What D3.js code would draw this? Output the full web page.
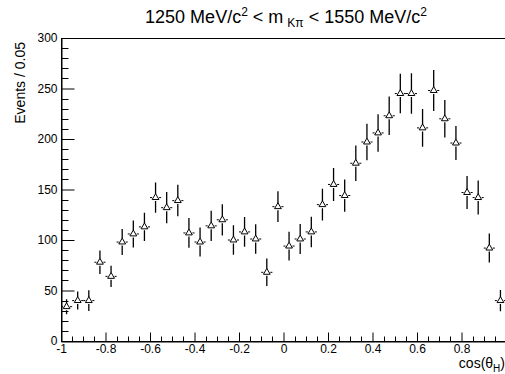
<!DOCTYPE html>
<html>
<head>
<meta charset="utf-8">
<script src="https://cdn.jsdelivr.net/npm/d3@7/dist/d3.min.js"></script>
<style>
  body { margin: 0; background: #fff; }
  svg { display: block; overflow: hidden; }
  text { font-family: "Liberation Sans", Arial, Helvetica, sans-serif; fill: #000; }
</style>
</head>
<body>
<svg id="chart"></svg>
<script>
// bin centres of cos(theta_H), 40 bins of width 0.05
var binCenters = [-0.975, -0.925, -0.875, -0.825, -0.775, -0.725, -0.675, -0.625, -0.575, -0.525,
                  -0.475, -0.425, -0.375, -0.325, -0.275, -0.225, -0.175, -0.125, -0.075, -0.025,
                   0.025,  0.075,  0.125,  0.175,  0.225,  0.275,  0.325,  0.375,  0.425,  0.475,
                   0.525,  0.575,  0.625,  0.675,  0.725,  0.775,  0.825,  0.875,  0.925,  0.975];
var binHalfWidth = 0.025;

// events per bin
var events = [34, 40, 40, 78, 64, 98, 106, 113, 142, 132,
              139, 107, 98, 114, 120, 100, 108, 101, 68, 133,
              94, 101, 108, 135, 155, 144, 176, 197, 206, 223,
              245, 245, 211, 248, 220, 196, 147, 142, 92, 40];

// vertical error (half length)
var errors = [7.4, 8.9, 10.2, 11.6, 10.6, 12.9, 13.4, 14.1, 15.0, 15.5,
              15.6, 14.7, 14.4, 14.9, 15.5, 14.7, 14.7, 14.6, 13.6, 15.3,
              14.2, 14.9, 15.1, 15.8, 16.3, 16.0, 17.5, 18.0, 18.5, 19.0,
              19.5, 20.1, 18.6, 20.3, 18.5, 16.8, 16.3, 16.8, 14.4, 10.6];

var xTicks = [-1, -0.8, -0.6, -0.4, -0.2, 0, 0.2, 0.4, 0.6, 0.8, 1];
// the label of 1 falls outside the canvas in the original
var xTickLabels = ["-1", "-0.8", "-0.6", "-0.4", "-0.2", "0", "0.2", "0.4", "0.6", "0.8", ""];
var yTicks = [0, 50, 100, 150, 200, 250, 300];

var w = 505, h = 374;
var padLeft = 61, padRight = 506, padTop = 38, padBottom = 341;
var gap = 3.5; // error bars stop short of the marker

var svg = d3.select("#chart")
    .attr("width", w)
    .attr("height", h);

var x = d3.scaleLinear().domain([-1, 1]).range([padLeft, padRight]);
var y = d3.scaleLinear().domain([0, 300]).range([padBottom, padTop]);

//frame
svg.append("rect")
    .attr("x", padLeft + 0.5)
    .attr("y", padTop + 0.5)
    .attr("width", padRight - padLeft)
    .attr("height", padBottom - padTop)
    .attr("fill", "none")
    .attr("stroke", "#000")
    .attr("stroke-width", 1);

// y axis, ticks pointing inside
var yAxis = svg.append("g")
    .attr("transform", "translate(" + (padLeft + 0.5) + ",0)")
    .call(d3.axisLeft(y).tickValues(yTicks).tickSize(-13).tickSizeOuter(0).tickPadding(4)
        .tickFormat(function(d) { return d; }));

var yMinor = d3.range(0, 301, 10).filter(function(d) { return d % 50 != 0; });
yAxis.selectAll(".minor")
    .data(yMinor)
    .enter().append("line")
    .attr("class", "minor")
    .attr("x1", 0).attr("x2", 7)
    .attr("y1", function(d) { return Math.round(y(d)) + 0.5; })
    .attr("y2", function(d) { return Math.round(y(d)) + 0.5; })
    .attr("stroke", "#000");

// x axis, ticks pointing up
var xAxis = svg.append("g")
    .attr("transform", "translate(0," + (padBottom + 0.5) + ")")
    .call(d3.axisBottom(x).tickValues(xTicks).tickSize(-9).tickSizeOuter(0).tickPadding(3)
        .tickFormat(function(d, i) { return xTickLabels[i]; }));

var xMinor = d3.range(-1, 1.001, 0.05).filter(function(d) {
    return Math.abs(d * 5 - Math.round(d * 5)) > 1e-6;
});
xAxis.selectAll(".minor")
    .data(xMinor)
    .enter().append("line")
    .attr("class", "minor")
    .attr("y1", 0).attr("y2", -5)
    .attr("x1", function(d) { return Math.round(x(d)) + 0.5; })
    .attr("x2", function(d) { return Math.round(x(d)) + 0.5; })
    .attr("stroke", "#000");

svg.selectAll(".tick text")
    .attr("font-family", null)
    .style("font-size", "12px");
svg.selectAll(".domain").attr("stroke", "#000");

// data points with error bars
var pts = svg.append("g")
    .selectAll(".pt")
    .data(binCenters.map(function(c, i) { return { c: c, v: events[i], e: errors[i] }; }))
    .enter().append("g")
    .attr("class", "pt");

//horizontal bar, left and right of the marker
pts.append("path")
    .attr("d", function(d) {
        var cx = x(d.c), cy = y(d.v);
        return "M" + x(d.c - binHalfWidth) + "," + cy + "L" + (cx - gap) + "," + cy +
            "M" + (cx + gap) + "," + cy + "L" + x(d.c + binHalfWidth) + "," + cy;
    })
    .attr("stroke", "#000")
    .attr("fill", "none");

//vertical bar, above and below the marker
pts.append("path")
    .attr("d", function(d) {
        var cx = x(d.c), cy = y(d.v);
        return "M" + cx + "," + y(d.v + d.e) + "L" + cx + "," + (cy - gap) +
            "M" + cx + "," + (cy + gap) + "L" + cx + "," + y(d.v - d.e);
    })
    .attr("stroke", "#000")
    .attr("stroke-width", 1.3)
    .attr("fill", "none");

pts.append("path")
    .attr("d", d3.symbol(d3.symbolTriangle, 20))
    .attr("transform", function(d) { return "translate(" + x(d.c) + "," + y(d.v) + ")"; })
    .attr("fill", "#fff")
    .attr("stroke", "#000")
    .attr("stroke-width", 1);

// title
var title = svg.append("text")
    .attr("x", 286)
    .attr("y", 23)
    .attr("text-anchor", "middle")
    .style("font-size", "18px");
title.append("tspan").text("1250 MeV/c");
title.append("tspan").attr("dy", -7).style("font-size", "12px").text("2");
title.append("tspan").attr("dy", 7).text(" < m");
title.append("tspan").attr("dx", 4).attr("dy", 4).style("font-size", "12px").text("K\u03C0");
title.append("tspan").attr("dy", -4).text(" < 1550 MeV/c");
title.append("tspan").attr("dy", -7).style("font-size", "12px").text("2");

// axis titles
svg.append("text")
    .attr("transform", "translate(25,42) rotate(-90)")
    .attr("text-anchor", "end")
    .style("font-size", "14px")
    .text("Events / 0.05");

var xt = svg.append("text")
    .attr("x", 505)
    .attr("y", 368)
    .attr("text-anchor", "end")
    .style("font-size", "14px");
xt.append("tspan").text("cos(\u03B8");
xt.append("tspan").attr("dy", 4).style("font-size", "10px").text("H");
xt.append("tspan").attr("dy", -4).text(")");
</script>
</body>
</html>
